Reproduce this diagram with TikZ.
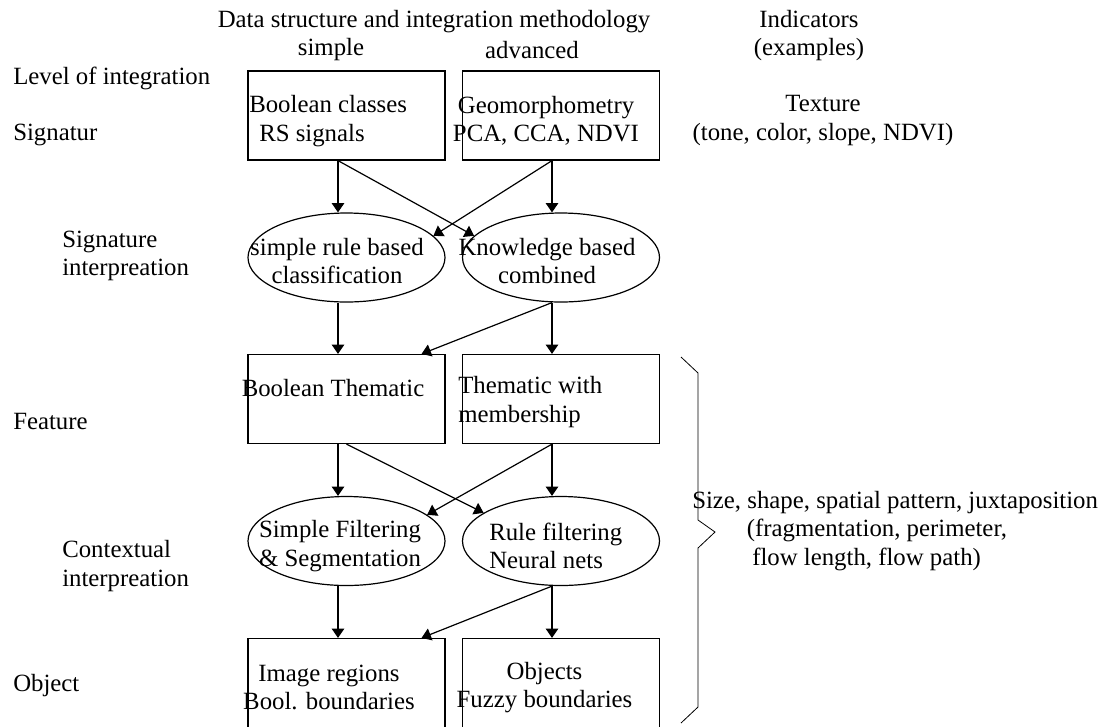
\documentclass[tikz,border=0pt]{standalone}
\usepackage{fontspec}
\setmainfont{Liberation Serif}
\usepackage{tikz}
\usetikzlibrary{shapes.geometric,arrows.meta}
\newcommand{\txtfont}{\fontsize{18.6}{21.4}\selectfont}

\begin{document}
\begin{tikzpicture}[x=0.75pt,y=-0.75pt,
  box/.style={draw,line width=0.9pt,rectangle,inner sep=0,minimum width=147.75pt,minimum height=66.75pt},
  oval/.style={draw,line width=0.9pt,ellipse,inner sep=0,minimum width=147.75pt,minimum height=66.75pt},
  txt/.style={inner sep=0,align=center,font=\txtfont},
  side/.style={inner sep=0,anchor=west,align=left,font=\txtfont},
  link/.style={line width=0.9pt,-{Triangle[length=7pt,width=9.4pt]}}]
  % --- Cadre ---
  \useasboundingbox (0,0) rectangle (1098,726);
  \def\xa{346.5}                        % centre colonne simple
  \def\xb{561}                          % centre colonne avancee
  \coordinate (colA) at (338,0);        % axe des fleches gauche
  \coordinate (colB) at (552,0);        % axe des fleches droite

  % --- En-tetes ---
  \node[txt] (head) at (434,22) {Data structure and integration methodology};
  \node[txt] (simple) at (331,50) {simple};
  \node[txt] (adv) at (532,50) {advanced};
  \node[txt] (ind) at (809,35.5) {Indicators\\(examples)};

  % --- Niveaux (colonne de gauche) ---
  \node[side] (lvl) at (13,78) {Level of integration};
  \node[side] (sig) at (13,135) {Signatur};
  \node[side] (sigint) at (62,256) {Signature\\interpreation};
  \node[side] (feat) at (13,421) {Feature};
  \node[side] (ctx) at (62,566) {Contextual\\interpreation};
  \node[side] (obj) at (13,686) {Object};

  % --- Boites et ellipses ---
  \foreach \rr/\yb/\ye in {1/115.5/257.5,2/399/541}{%
    \node[box] (b\rr1) at (\xa,\yb) {};
    \node[box] (b\rr2) at (\xb,\yb) {};
    \node[oval] (e\rr1) at (\xa,\ye) {};
    \node[oval] (e\rr2) at (\xb,\ye) {};
  }
  \node[box] (b31) at (\xa,683) {};
  \node[box] (b32) at (\xb,683) {};

  % --- Textes des boites ---
  \node[side] (t11) at (249,121) {Boolean classes\\\hspace*{7.5pt}RS signals};
  \node[txt] (t12) at (546,121) {Geomorphometry\\PCA, CCA, NDVI};
  \node[txt] (s11) at (337,261) {simple rule based\\classification};
  \node[txt] (s12) at (547,261) {Knowledge based\\combined};
  \node[txt] (t21) at (333,388) {Boolean Thematic};
  \node[side] (t22) at (458,402) {Thematic with\\membership};
  \node[txt] (s21) at (340,546) {Simple Filtering\\\& Segmentation};
  \node[side] (s22) at (489,546) {Rule filtering\\Neural nets};
  \node[txt] (t31) at (329,687.5) {Image regions\\Bool. boundaries};
  \node[txt] (t32) at (544.5,687.5) {Objects\\Fuzzy boundaries};

  % --- Indicateurs ---
  \node[txt] (tex) at (823,120.5) {Texture\\(tone, color, slope, NDVI)};
  \node[side] (size) at (692,531)
    {Size, shape, spatial pattern, juxtaposition\\
     \hspace*{41pt}(fragmentation, perimeter,\\
     \hspace*{45pt}flow length, flow path)};
  \draw[line width=0.6pt] (681,357) -- (698,373) -- (698,520) -- (715,532)
    -- (698,548) -- (698,707) -- (681,723);

  % --- Fleches ---
  \draw[link] (b11.south -| colA) -- (e11.north -| colA);
  \draw[link] (b12.south -| colB) -- (e12.north -| colB);
  \draw[link] (b11.south -| colA) -- (e12.166);
  \draw[link] (b12.south -| colB) -- (e11.14);
  \draw[link] (e11.south -| colA) -- (b21.north -| colA);
  \draw[link] (e12.south -| colB) -- (b22.north -| colB);
  \draw[link] (e12.south -| colB) -- (b21.31);
  \draw[link] (b21.south -| colA) -- (e21.north -| colA);
  \draw[link] (b22.south -| colB) -- (e22.north -| colB);
  \draw[link] (b21.south) -- (e22.160);
  \draw[link] (b22.south -| colB) -- (e21.18);
  \draw[link] (e21.south -| colA) -- (b31.north -| colA);
  \draw[link] (e22.south -| colB) -- (b32.north -| colB);
  \draw[link] (e22.south -| colB) -- (b31.31);
\end{tikzpicture}
\end{document}
